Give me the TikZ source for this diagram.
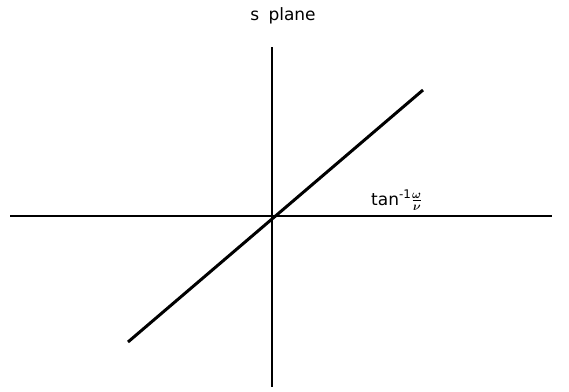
\documentclass[tikz,border=0pt]{standalone}
\usepackage{fontspec}
\setmainfont{DejaVu Sans}
\usepackage{unicode-math}
\begin{document}
\begin{tikzpicture}[x=1pt,y=-1pt,
  axis/.style={line width=1.3pt},
  locus/.style={line width=3pt},
  lbl/.style={inner sep=0pt, font=\fontsize{17}{19}\selectfont}]
\useasboundingbox (0,0) rectangle (569,391);
\coordinate (O) at (272,216);
\coordinate (xl) at (10,216);
\coordinate (xr) at (552,216);
\coordinate (yt) at (272,47);
\coordinate (yb) at (272,387);
\coordinate (d1) at (128,342);
\coordinate (d2) at (423,90);
\draw[axis] (xl) -- (xr);
\draw[axis] (yt) -- (yb);
\draw[locus] (d1) -- (d2);
\node[lbl, anchor=base] (title) at (283,20) {s\hspace{0.55em}plane};
\node[lbl, anchor=base west] (ang) at (371,205) {tan$^{\text{-1}}\frac{\symbf{\omega}}{\symbf{\nu}}$};
\end{tikzpicture}
\end{document}
